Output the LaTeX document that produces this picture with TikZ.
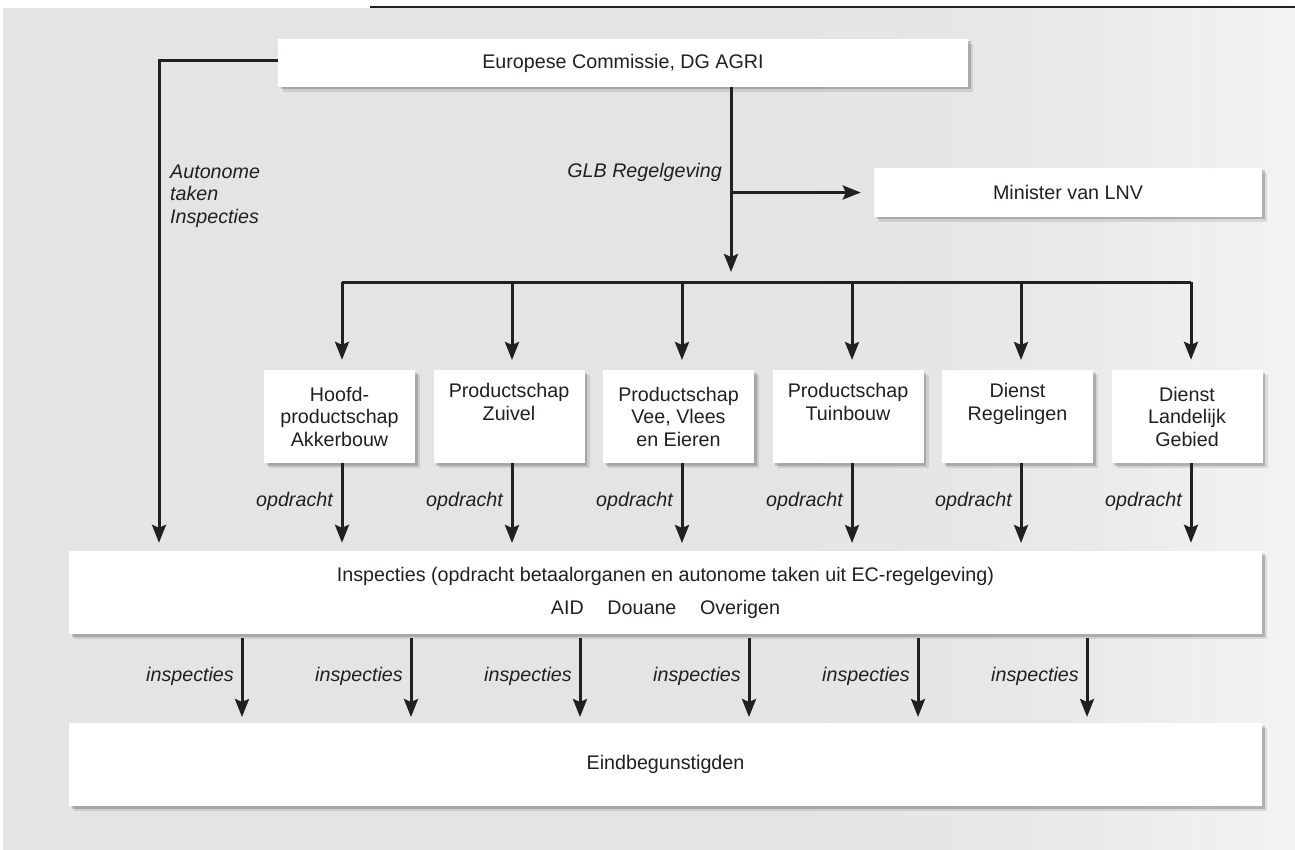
\documentclass[tikz,border=0pt]{standalone}
\usepackage{fontspec}
\setmainfont{Liberation Sans}
\usetikzlibrary{arrows.meta,shadows}
\definecolor{panel}{HTML}{E3E4E6}
\definecolor{ink}{HTML}{231F20}
\pgfdeclarehorizontalshading{fade}{100bp}{color(0bp)=(panel); color(25bp)=(panel); color(55bp)=(panel); color(61bp)=(panel!93!white); color(67bp)=(panel!78!white); color(75bp)=(panel!45!white); color(100bp)=(panel!45!white)}
\begin{document}
\begin{tikzpicture}[x=1pt,y=-1pt,
    font=\fontsize{19.7}{22.5}\selectfont, text=ink,
    box/.style={fill=white, inner sep=0pt, align=center,
        drop shadow={shadow xshift=5pt,shadow yshift=-5pt,opacity=.10,fill=black},
        drop shadow={shadow xshift=2.5pt,shadow yshift=-2.5pt,opacity=.18,fill=black}},
    branch/.style={box, minimum width=151, minimum height=93},
    pijl/.style={draw=ink, line width=3pt, -{Stealth[length=18pt,width=14pt,inset=3pt]}},
    lijn/.style={draw=ink, line width=3pt},
    lbl/.style={font=\fontsize{19.7}{22.5}\selectfont\itshape, inner sep=0pt}]
\useasboundingbox (0,0) rectangle (1295,850);
\shade[shading=fade] (3,9) rectangle (1295,849);
\draw[ink, line width=2pt] (370,7) -- (1295,7);

\node[box, minimum width=690, minimum height=48] (ec) at (623,63) {Europese Commissie, DG AGRI};
\node[box, minimum width=388, minimum height=49] (lnv) at (1068,192.5) {Minister van LNV};

\node[branch] (hpa) at (339.5,416.5) {Hoofd-\\productschap\\Akkerbouw};
\node[branch] (pz) at (509,416.5) {Productschap\\Zuivel\\\strut};
\node[branch] (pvv) at (678.5,416.5) {Productschap\\Vee, Vlees\\en Eieren};
\node[branch] (pt) at (848,416.5) {Productschap\\Tuinbouw\\\strut};
\node[branch] (dr) at (1017.5,416.5) {Dienst\\Regelingen\\\strut};
\node[branch] (dlg) at (1187,416.5) {Dienst\\Landelijk\\Gebied};

\node[box, minimum width=1193, minimum height=83] (insp) at (665.5,592.5) {Inspecties (opdracht betaalorganen en autonome taken uit EC-regelgeving)\\[10.5pt]AID\hspace{1.2em}Douane\hspace{1.2em}Overigen};
\node[box, minimum width=1193, minimum height=83] (eind) at (665.5,764.5) {Eindbegunstigden};

\coordinate (auto) at (159,61);
\coordinate (glb) at (731,0);
\coordinate (split) at (731,282);
\coordinate (sl) at (342,282);
\coordinate (sr) at (1191,282);

\draw[pijl, shorten >=8pt] (ec.west |- auto) -- (auto) -- (auto |- insp.north);
\draw[pijl, shorten >=10pt] (glb |- ec.south) -- (split);
\draw[pijl, shorten >=13pt] (glb |- lnv.west) -- (lnv.west);
\draw[lijn] (sl) -- (sr);
\node[lbl, anchor=east] (lglb) at (722,172) {GLB Regelgeving};
\node[lbl, anchor=west, align=left] (laut) at (170,196) {Autonome\\taken\\Inspecties};

\draw[pijl, shorten >=10pt] (sl) -- (sl |- hpa.north);
\draw[pijl, shorten >=10pt] (512,282) -- (512,370);
\draw[pijl, shorten >=10pt] (682,282) -- (682,370);
\draw[pijl, shorten >=10pt] (852,282) -- (852,370);
\draw[pijl, shorten >=10pt] (1021,282) -- (1021,370);
\draw[pijl, shorten >=10pt] (sr) -- (sr |- dlg.north);

\draw[pijl, shorten >=8pt] (hpa.south -| sl) -- (insp.north -| sl);
\draw[pijl, shorten >=8pt] (512,463) -- (512,551);
\draw[pijl, shorten >=8pt] (682,463) -- (682,551);
\draw[pijl, shorten >=8pt] (852,463) -- (852,551);
\draw[pijl, shorten >=8pt] (1021,463) -- (1021,551);
\draw[pijl, shorten >=8pt] (dlg.south -| sr) -- (insp.north -| sr);
\node[lbl, anchor=east] (op1) at (333,501) {opdracht};
\node[lbl, anchor=east] (op2) at (503,501) {opdracht};
\node[lbl, anchor=east] (op3) at (673,501) {opdracht};
\node[lbl, anchor=east] (op4) at (843,501) {opdracht};
\node[lbl, anchor=east] (op5) at (1012,501) {opdracht};
\node[lbl, anchor=east] (op6) at (1182,501) {opdracht};

\draw[pijl, shorten <=4pt, shorten >=6pt] (242,634) -- (242,723);
\draw[pijl, shorten <=4pt, shorten >=6pt] (411,634) -- (411,723);
\draw[pijl, shorten <=4pt, shorten >=6pt] (580,634) -- (580,723);
\draw[pijl, shorten <=4pt, shorten >=6pt] (749,634) -- (749,723);
\draw[pijl, shorten <=4pt, shorten >=6pt] (918,634) -- (918,723);
\draw[pijl, shorten <=4pt, shorten >=6pt] (1087,634) -- (1087,723);
\node[lbl, anchor=east] (in1) at (234,676) {inspecties};
\node[lbl, anchor=east] (in2) at (403,676) {inspecties};
\node[lbl, anchor=east] (in3) at (572,676) {inspecties};
\node[lbl, anchor=east] (in4) at (741,676) {inspecties};
\node[lbl, anchor=east] (in5) at (910,676) {inspecties};
\node[lbl, anchor=east] (in6) at (1079,676) {inspecties};
\end{tikzpicture}
\end{document}
